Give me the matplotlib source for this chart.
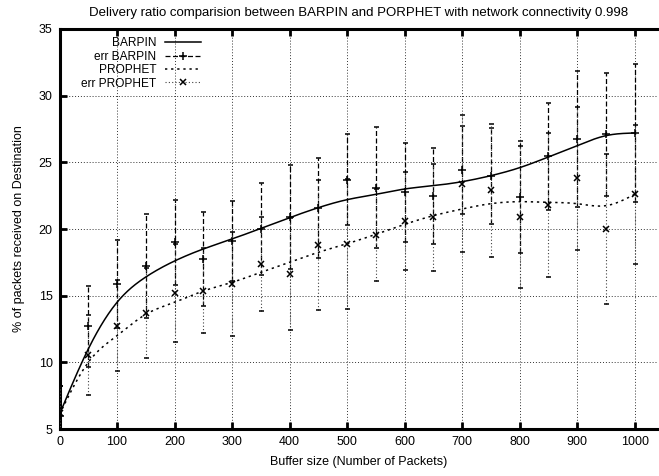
import numpy as np
import matplotlib
matplotlib.use("Agg")
import matplotlib.pyplot as plt
from matplotlib.lines import Line2D

plt.rcParams['font.family'] = ['Liberation Sans', 'DejaVu Sans']

# buffer sizes (packets)
buffer_size = np.arange(0, 1001, 50)

# smoothed curves at each buffer size
barpin_curve = [6.1, 11.0, 14.5, 16.4, 17.6, 18.5, 19.25, 20.05, 20.85, 21.6, 22.2,
                22.6, 23.0, 23.25, 23.55, 24.0, 24.6, 25.4, 26.25, 27.0, 27.2]
prophet_curve = [6.1, 10.0, 12.0, 13.6, 14.5, 15.35, 16.0, 16.75, 17.5, 18.25, 18.9,
                 19.6, 20.35, 21.0, 21.5, 21.9, 22.05, 22.0, 21.9, 21.75, 22.6]

# measured points with error bars
barpin_mean = [6.0, 12.7, 15.87, 17.2, 19.0, 17.75, 19.1, 20.0, 20.87, 21.6, 23.7,
               23.1, 22.75, 22.5, 24.4, 24.0, 22.4, 25.45, 26.75, 27.1, 27.2]
barpin_err = [2.2, 3.05, 3.3, 3.9, 3.2, 3.55, 3.0, 3.45, 3.9, 3.75, 3.4,
              4.55, 3.7, 3.6, 3.3, 3.6, 4.2, 4.0, 5.1, 4.6, 5.15]
prophet_mean = [6.2, 10.57, 12.75, 13.7, 15.2, 15.37, 15.87, 17.37, 16.6, 18.8, 18.87,
                19.55, 20.6, 20.87, 23.4, 22.9, 20.9, 21.8, 23.8, 20.0, 22.6]
prophet_err = [2.0, 3.0, 3.4, 3.35, 3.7, 3.2, 3.9, 3.55, 4.2, 4.85, 4.85,
               3.45, 3.7, 4.0, 5.15, 5.0, 5.3, 5.4, 5.35, 5.6, 5.2]


def natural_spline(x, y, num=600):
    # plain natural cubic spline, like gnuplot's "smooth csplines"
    x = np.asarray(x, float)
    y = np.asarray(y, float)
    n = len(x)
    h = np.diff(x)
    A = np.zeros((n, n))
    r = np.zeros(n)
    A[0, 0] = A[-1, -1] = 1.0
    for i in range(1, n - 1):
        A[i, i - 1] = h[i - 1]
        A[i, i] = 2 * (h[i - 1] + h[i])
        A[i, i + 1] = h[i]
        r[i] = 6 * ((y[i + 1] - y[i]) / h[i] - (y[i] - y[i - 1]) / h[i - 1])
    M = np.linalg.solve(A, r)
    xs = np.linspace(x[0], x[-1], num)
    k = np.clip(np.searchsorted(x, xs) - 1, 0, n - 2)
    t0 = x[k + 1] - xs
    t1 = xs - x[k]
    hk = h[k]
    ys = (M[k] * t0**3 + M[k + 1] * t1**3) / (6 * hk) \
        + (y[k] / hk - M[k] * hk / 6) * t0 + (y[k + 1] / hk - M[k + 1] * hk / 6) * t1
    return xs, ys


fig = plt.figure(figsize=(6.59, 4.76), dpi=100)
ax = fig.add_axes([0.0903, 0.0987, 0.9077, 0.8404])

dash_style = (0, (4, 2))
dot_style = (0, (1, 2))

xs, ys = natural_spline(buffer_size, barpin_curve)
ax.plot(xs, ys, color='black', lw=1.1, zorder=4)
eb = ax.errorbar(buffer_size, barpin_mean, yerr=barpin_err, fmt='+', color='black',
                 ms=6, mew=1.1, elinewidth=0.9, capsize=1.8, capthick=0.9, zorder=3)
eb[2][0].set_linestyle(dash_style)

xs, ys = natural_spline(buffer_size, prophet_curve)
ax.plot(xs, ys, color='black', lw=1.1, ls=(0, (1.5, 2.5)), zorder=4)
eb2 = ax.errorbar(buffer_size, prophet_mean, yerr=prophet_err, fmt='x', color='black',
                  ms=5, mew=1.1, elinewidth=0.8, capsize=1.8, capthick=0.8, zorder=3)
eb2[2][0].set_linestyle(dot_style)
eb2[2][0].set_color('0.25')

ax.set_xlim(0, 1040)
ax.set_ylim(5, 35)
ax.set_xticks(np.arange(0, 1001, 100))
ax.set_yticks(np.arange(5, 36, 5))
ax.grid(True, color='0.2', ls=(0, (1, 2)), lw=0.7)
ax.set_axisbelow(True)

for side in ['left', 'bottom', 'top']:
    ax.spines[side].set_linewidth(2.2)
ax.spines['right'].set_visible(False)
ax.tick_params(direction='in', length=5, width=2, labelsize=9, top=True, pad=5)

ax.set_xlabel('Buffer size (Number of Packets)', fontsize=9, labelpad=6)
ax.set_ylabel('% of packets received on Destination', fontsize=9, labelpad=10)
ax.set_title('Delivery ratio comparision between BARPIN and PORPHET with network connectivity 0.998',
             fontsize=9.5, pad=9)

handles = [
    Line2D([], [], color='black', lw=1.1),
    Line2D([], [], color='black', lw=0.9, ls=dash_style, marker='+', ms=6, mew=1.1),
    Line2D([], [], color='black', lw=1.1, ls=(0, (1.5, 2.5))),
    Line2D([], [], color='0.25', lw=0.8, ls=dot_style, marker='x', ms=5, mew=1.1,
           mec='black'),
]
ax.legend(handles, ['BARPIN', 'err BARPIN', 'PROPHET', 'err PROPHET'],
          loc='upper right', bbox_to_anchor=(0.24, 0.985), frameon=False, markerfirst=False,
          fontsize=8.6, handlelength=3.0, handletextpad=0.7, labelspacing=0.12,
          borderaxespad=0.0, borderpad=0.2, numpoints=1)

fig.savefig('out.png', dpi=100)
